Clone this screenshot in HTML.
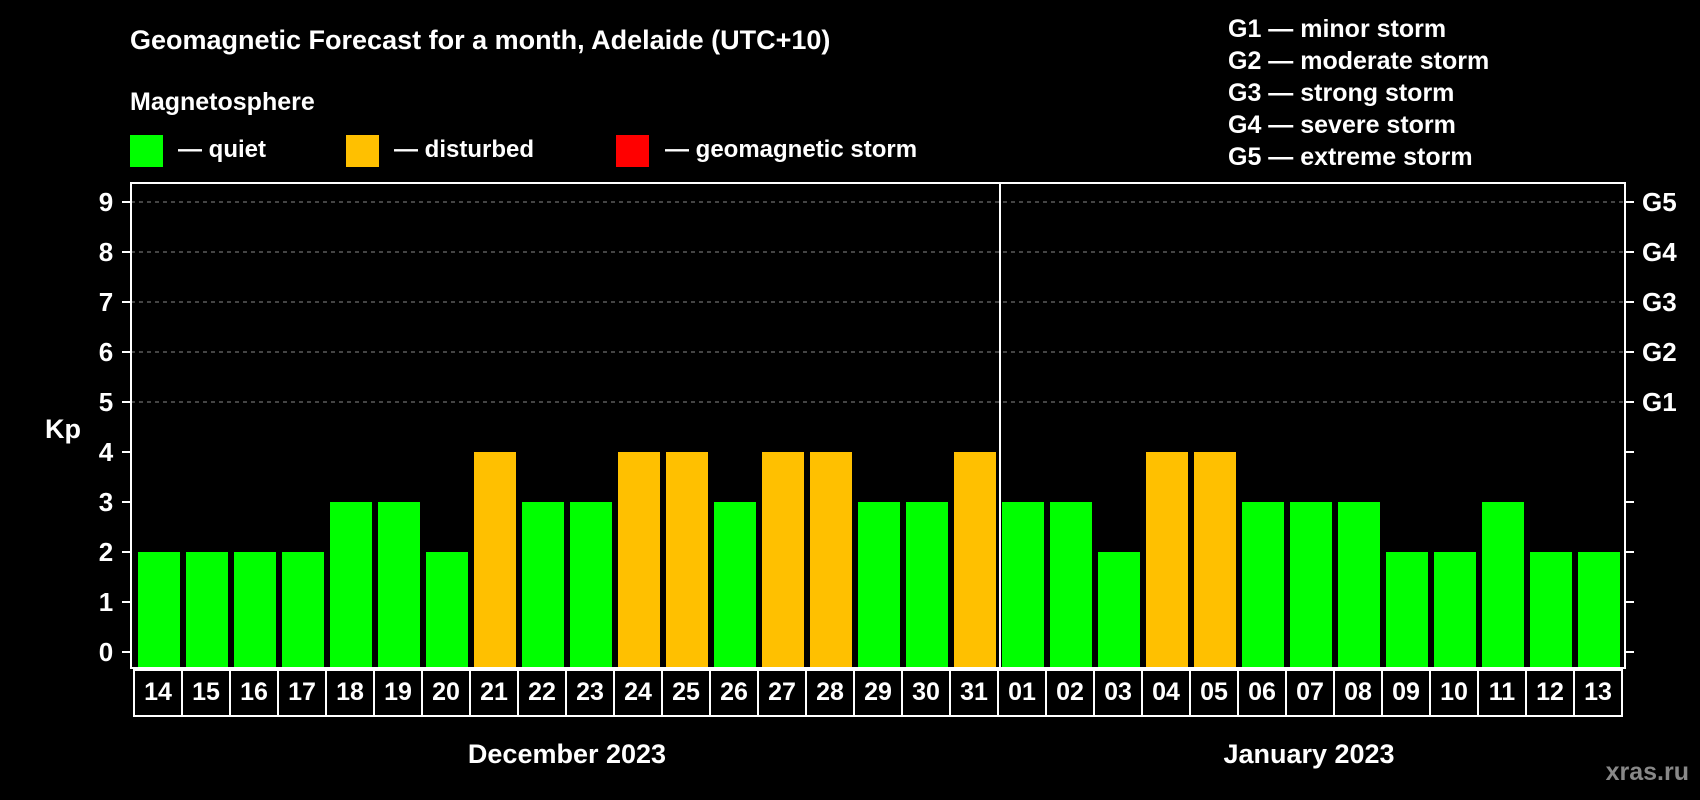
<!DOCTYPE html>
<html><head><meta charset="utf-8"><style>
html,body{margin:0;padding:0;background:#000;}
svg{display:block;font-family:"Liberation Sans",Arial,sans-serif;font-weight:bold;}
</style></head><body>
<svg id="chart" width="1700" height="800" viewBox="0 0 1700 800" xmlns="http://www.w3.org/2000/svg">
<rect width="1700" height="800" fill="#000"/>
<text x="130" y="49" fill="#fff" font-size="27">Geomagnetic Forecast for a month, Adelaide (UTC+10)</text>
<text x="130" y="110" fill="#fff" font-size="25">Magnetosphere</text>
<g><rect x="130" y="135" width="33" height="32" fill="#00ff00"/><text x="178" y="157" fill="#fff" font-size="24">— quiet</text></g>
<g><rect x="346" y="135" width="33" height="32" fill="#ffc000"/><text x="394" y="157" fill="#fff" font-size="24">— disturbed</text></g>
<g><rect x="616" y="135" width="33" height="32" fill="#ff0000"/><text x="665" y="157" fill="#fff" font-size="24">— geomagnetic storm</text></g>
<g fill="#fff" font-size="25">
<text x="1228" y="37">G1 — minor storm</text>
<text x="1228" y="69">G2 — moderate storm</text>
<text x="1228" y="101">G3 — strong storm</text>
<text x="1228" y="133">G4 — severe storm</text>
<text x="1228" y="165">G5 — extreme storm</text>
</g>
<g id="grid"></g>
<g id="bars"></g>
<g id="axes"></g>
<text x="63" y="438" fill="#fff" font-size="27" text-anchor="middle">Kp</text>
<text x="567" y="763" fill="#fff" font-size="27" text-anchor="middle">December 2023</text>
<text x="1309" y="763" fill="#fff" font-size="27" text-anchor="middle">January 2023</text>
<text x="1689" y="780" fill="#888" font-size="25" text-anchor="end">xras.ru</text>
</svg>
<script>
const days = ["14","15","16","17","18","19","20","21","22","23","24","25","26","27","28","29","30","31","01","02","03","04","05","06","07","08","09","10","11","12","13"];
const kpValues = [2,2,2,2,3,3,2,4,3,3,4,4,3,4,4,3,3,4,3,3,2,4,4,3,3,3,2,2,3,2,2];
const yTicks = [0,1,2,3,4,5,6,7,8,9];
const gLabels = ["","","","","","G1","G2","G3","G4","G5"];
const NS = "http://www.w3.org/2000/svg";
const plotL = 131, plotR = 1625, plotT = 183, plotB = 668;
const slotX0 = 135, slotW = 48, barW = 42;
function yPos(v){ return 652 - v*50; }
function xPos(i){ return slotX0 + i*slotW; }
function mk(tag, attrs, parent){ const e=document.createElementNS(NS,tag); for(const k in attrs) e.setAttribute(k,attrs[k]); parent.appendChild(e); return e; }
function color(v){ return v>=5 ? "#ff0000" : (v>=4 ? "#ffc000" : "#00ff00"); }
const grid=document.getElementById("grid"), bars=document.getElementById("bars"), axes=document.getElementById("axes");
yTicks.forEach(t=>{
  if(t>=5){
    const g=mk("line",{x1:plotL,x2:plotR,y1:yPos(t),y2:yPos(t),stroke:"#888","stroke-width":1,"stroke-dasharray":"4,4"},grid);
    
    
  }
  const tl=mk("line",{x1:122,x2:plotL,y1:yPos(t),y2:yPos(t),stroke:"#fff","stroke-width":2},axes);
  
  
  const tr=mk("line",{x1:plotR,x2:1634,y1:yPos(t),y2:yPos(t),stroke:"#fff","stroke-width":2},axes);
  
  
  const lb=mk("text",{x:106,y:yPos(t)+9,fill:"#fff","font-size":26,"text-anchor":"middle"},axes);
  lb.textContent=String(t);
  
  
  if(gLabels[t]){
    const gl=mk("text",{x:1642,y:yPos(t)+9,fill:"#fff","font-size":26},axes);
    gl.textContent=gLabels[t];
    
    
  }
});
kpValues.forEach((v,i)=>{
  const r=mk("rect",{x:xPos(i)+3,y:yPos(v),width:barW,height:plotB-yPos(v),fill:color(v)},bars);
  
  
});
const frame=mk("rect",{x:plotL,y:plotT,width:plotR-plotL,height:plotB-plotT,fill:"none",stroke:"#fff","stroke-width":2},axes);


const sepIdx = days.indexOf("01");
const sep=mk("line",{x1:xPos(sepIdx)+1,x2:xPos(sepIdx)+1,y1:plotT,y2:plotB,stroke:"#fff","stroke-width":2},axes);


days.forEach((d,i)=>{
  const b=mk("rect",{x:xPos(i)-1,y:670,width:slotW,height:46,fill:"#000",stroke:"#fff","stroke-width":2},axes);
  
  
  const t=mk("text",{x:xPos(i)-1+slotW/2,y:700,fill:"#fff","font-size":25,"text-anchor":"middle"},axes);
  t.textContent=d;
  
  
});
</script>
</body></html>
